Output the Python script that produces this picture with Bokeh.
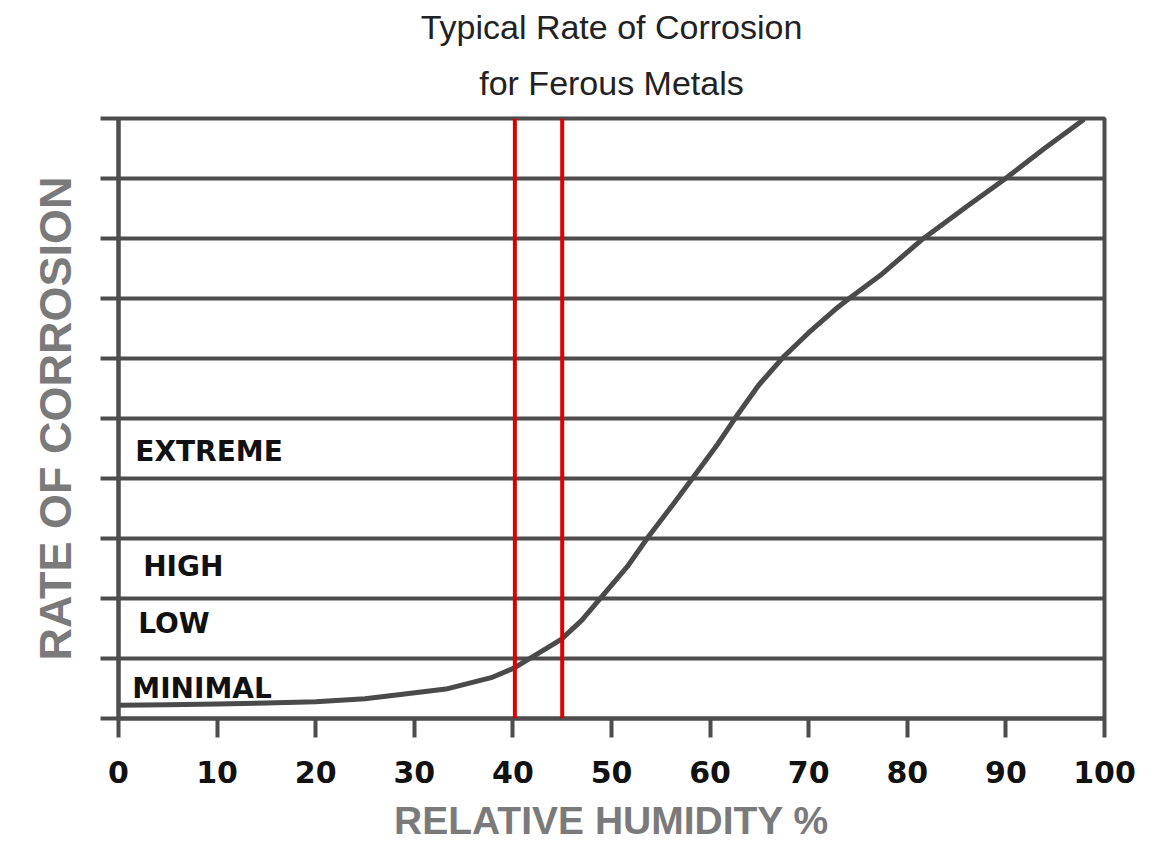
from bokeh.plotting import figure
from bokeh.models import FixedTicker, Span, ColumnDataSource, Title
from bokeh.core.properties import value
from bokeh.embed import file_html
from bokeh.resources import INLINE

# ---- data ----
humidity = [0, 5, 10, 15, 20, 25, 28.6, 33.2, 37.8, 40.1, 42.4, 44.9, 47.0, 48.8,
            51.6, 53.7, 56.2, 58.2, 60.8, 62.6, 64.9, 67.4, 70.0, 72.7, 74.1, 77.3,
            81.4, 86.1, 89.8, 93.9, 97.8]
corrosion = [0.22, 0.23, 0.24, 0.26, 0.28, 0.33, 0.40, 0.49, 0.68, 0.84, 1.07, 1.32,
             1.64, 1.99, 2.53, 3.02, 3.56, 4.00, 4.58, 5.02, 5.55, 6.02, 6.43, 6.82,
             7.00, 7.39, 7.97, 8.54, 8.98, 9.50, 9.97]
band_limits = [40.2, 45.0]
x_ticks = [0, 10, 20, 30, 40, 50, 60, 70, 80, 90, 100]
y_ticks = [0, 1, 2, 3, 4, 5, 6, 7, 8, 9, 10]
zone_names = ["EXTREME", "HIGH", "LOW", "MINIMAL"]
zone_x = [1.7, 2.5, 2.0, 1.4]
zone_y = [4.45, 2.53, 1.58, 0.5]
title_lines = ["Typical Rate of Corrosion", "for Ferous Metals"]

GRID = "#4d4d4d"
W, H = 1150, 850
FL, FT, FR, FB = 118, 118, 1104, 718

p = figure(width=W, height=H, x_range=(0, 100), y_range=(0, 10),
           output_backend="svg", toolbar_location=None, title=None,
           min_border_left=FL, min_border_right=W - FR,
           min_border_top=FT, min_border_bottom=H - FB)
p.background_fill_color = "white"
p.border_fill_color = "white"
p.outline_line_color = GRID
p.outline_line_width = 4

# two-line title (the later one is stacked above)
p.add_layout(Title(text=title_lines[1], align="center", text_font="Liberation Sans",
                   text_font_size="34px", text_font_style="normal", text_color="#222222",
                   standoff=33), "above")
p.add_layout(Title(text=title_lines[0], align="center", text_font="Liberation Sans",
                   text_font_size="34px", text_font_style="normal", text_color="#222222",
                   standoff=0), "above")

# x axis
xa = p.xaxis[0]
xa.ticker = FixedTicker(ticks=x_ticks)
xa.axis_line_color = GRID
xa.axis_line_width = 4
xa.major_tick_line_color = GRID
xa.major_tick_line_width = 4
xa.major_tick_out = 19
xa.major_tick_in = 0
xa.minor_tick_line_color = None
xa.major_label_text_font = "DejaVu Sans"
xa.major_label_text_font_style = "bold"
xa.major_label_text_font_size = "30px"
xa.major_label_text_color = "#111111"
xa.major_label_standoff = 23
xa.axis_label = "RELATIVE HUMIDITY %"
xa.axis_label_text_font = "Liberation Sans"
xa.axis_label_text_font_style = "bold"
xa.axis_label_text_font_size = "39px"
xa.axis_label_text_color = "#7a7a7a"
xa.axis_label_standoff = 13

# y axis
ya = p.yaxis[0]
ya.ticker = FixedTicker(ticks=y_ticks)
ya.axis_line_color = GRID
ya.axis_line_width = 4
ya.major_tick_line_color = GRID
ya.major_tick_line_width = 4
ya.major_tick_out = 18
ya.major_tick_in = 0
ya.minor_tick_line_color = None
ya.major_label_overrides = {t: "" for t in y_ticks}
ya.major_label_standoff = 0
ya.axis_label = "RATE OF CORROSION"
ya.axis_label_text_font = "Liberation Sans"
ya.axis_label_text_font_style = "bold"
ya.axis_label_text_font_size = "45px"
ya.axis_label_text_color = "#7a7a7a"
ya.axis_label_standoff = 20

p.xgrid.grid_line_color = None
p.ygrid.ticker = FixedTicker(ticks=y_ticks)
p.ygrid.grid_line_color = GRID
p.ygrid.grid_line_width = 4
p.ygrid.grid_line_alpha = 1.0

# curve
p.line(humidity, corrosion, line_color="#4a4a4a", line_width=5, line_join="round",
       line_cap="round")

# red band
for b in band_limits:
    p.add_layout(Span(location=b, dimension="height", line_color="#e00000", line_width=4))

# zone labels
src = ColumnDataSource(dict(x=zone_x, y=zone_y, t=zone_names))
p.text(x="x", y="y", text="t", source=src, text_font=value("DejaVu Sans"),
       text_font_style="bold", text_font_size="28px", text_color="#111111",
       text_align="left", text_baseline="middle")

open("out.html", "w").write(file_html(p, INLINE))
